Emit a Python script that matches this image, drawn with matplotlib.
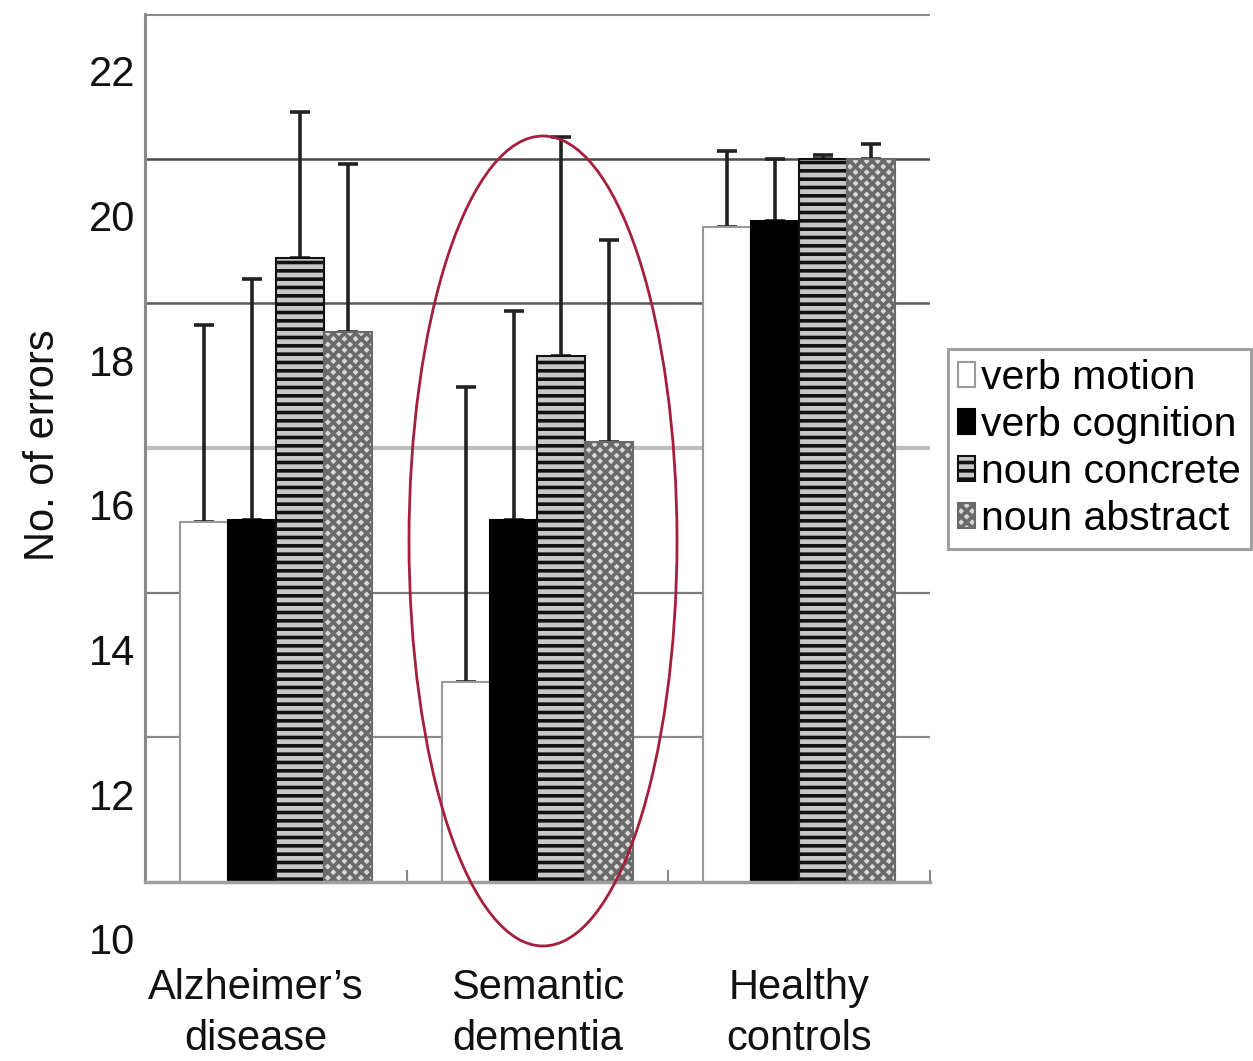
import matplotlib
matplotlib.use("Agg")
import matplotlib.pyplot as plt
import matplotlib.transforms as mtransforms
from matplotlib.patches import Ellipse
import numpy as np

plt.rcParams['font.family'] = ['Liberation Sans', 'DejaVu Sans']

categories = ["Alzheimer\u2019s\ndisease", "Semantic\ndementia", "Healthy\ncontrols"]
series = ["verb motion", "verb cognition", "noun concrete", "noun abstract"]
means = {
    "verb motion":    [14.98, 12.77, 19.06],
    "verb cognition": [15.00, 15.00, 19.14],
    "noun concrete":  [18.62, 17.27, 20.00],
    "noun abstract":  [17.60, 16.08, 20.00],
}
errors = {
    "verb motion":    [2.72, 4.08, 1.04],
    "verb cognition": [3.34, 2.90, 0.86],
    "noun concrete":  [2.03, 3.03, 0.05],
    "noun abstract":  [2.32, 2.79, 0.20],
}
ytick_values = [10, 12, 14, 16, 18, 20, 22]
ytick_labels = ["10", "12", "14", "16", "18", "20", "22"]

styles = {
    "verb motion":    dict(facecolor="white", edgecolor="#999999", hatch=None, linewidth=1.5),
    "verb cognition": dict(facecolor="black", edgecolor="black", hatch=None, linewidth=1.5),
    "noun concrete":  dict(facecolor="#c8c8c8", edgecolor="#111111", hatch="--", linewidth=1.5),
    "noun abstract":  dict(facecolor="#d8d8d8", edgecolor="#6a6a6a", hatch="xxx", linewidth=1.5),
}
plt.rcParams['hatch.linewidth'] = 2.6

fig = plt.figure(figsize=(12.53, 10.61), dpi=100)
ax = fig.add_axes([145/1253, 1-882/1061, 785/1253, 868/1061])

x = np.arange(len(categories))
width = 0.1834
offsets = (np.arange(4) - 1.5) * width

# gridlines (drawn behind bars)
grid_styles = {22: ("#8a8a8a", 2.2), 20: ("#4a4a4a", 1.8), 18: ("#5a5a5a", 1.8),
               16: ("#bdbdbd", 3.0), 14: ("#7a7a7a", 1.6), 12: ("#8a8a8a", 1.6)}
for yv, (c, lw) in grid_styles.items():
    ax.axhline(yv, color=c, lw=lw, zorder=0)

for i, s in enumerate(series):
    st = styles[s]
    ax.bar(x + offsets[i], means[s], width, bottom=0, label=s,
           facecolor=st["facecolor"], edgecolor=st["edgecolor"],
           hatch=st["hatch"], linewidth=st["linewidth"], zorder=2)
    ax.errorbar(x + offsets[i], means[s], yerr=[np.zeros(3), errors[s]],
                fmt="none", ecolor="#222222", elinewidth=2.6, capsize=7,
                capthick=2.6, zorder=1)

ax.set_xlim(-0.5, 2.5)
ax.set_ylim(10, 22)

for sp in ["top", "right"]:
    ax.spines[sp].set_visible(False)
ax.spines["left"].set_color("#8a8a8a")
ax.spines["left"].set_linewidth(2.2)
ax.spines["bottom"].set_color("#a0a0a0")
ax.spines["bottom"].set_linewidth(2.5)
ax.spines["left"].set_zorder(3)
ax.spines["bottom"].set_zorder(3)

ax.set_yticks(ytick_values)
ax.set_yticklabels(ytick_labels, fontsize=30, color="#111111")
ax.tick_params(axis="y", length=0, pad=7)
dy = mtransforms.ScaledTranslation(0, -57/100, fig.dpi_scale_trans)
for lab in ax.get_yticklabels():
    lab.set_transform(lab.get_transform() + dy)

ax.set_xticks(x)
ax.set_xticklabels(categories, fontsize=30, color="#111111", linespacing=1.35)
ax.tick_params(axis="x", which="major", length=0, pad=62)
ax.set_xticks([-0.5, 0.5, 1.5, 2.5], minor=True)
ax.tick_params(axis="x", which="minor", direction="in", length=9, width=1.5, color="#888888")
dx = mtransforms.ScaledTranslation(-20/100, 0, fig.dpi_scale_trans)
lab0 = ax.get_xticklabels()[0]
lab0.set_transform(lab0.get_transform() + dx)

ax.set_ylabel("No. of errors", fontsize=30, color="#111111")
ax.yaxis.set_label_coords(-0.105, 0.503)

leg = fig.legend(loc="upper left", bbox_to_anchor=(948/1253, 1-349/1061),
                 fontsize=29.5, frameon=True, fancybox=False, handlelength=0.4,
                 handleheight=0.55, handletextpad=0.15, labelspacing=0.22,
                 borderpad=0.25, borderaxespad=0)
leg.get_frame().set_edgecolor("#888888")
leg.get_frame().set_linewidth(2.2)

ell = Ellipse((543/1253, 1-541/1061), 268/1253, 810/1061, transform=fig.transFigure,
              fill=False, edgecolor="#a51f3d", linewidth=2.0, zorder=10)
fig.add_artist(ell)

fig.savefig("out.png", dpi=100)
